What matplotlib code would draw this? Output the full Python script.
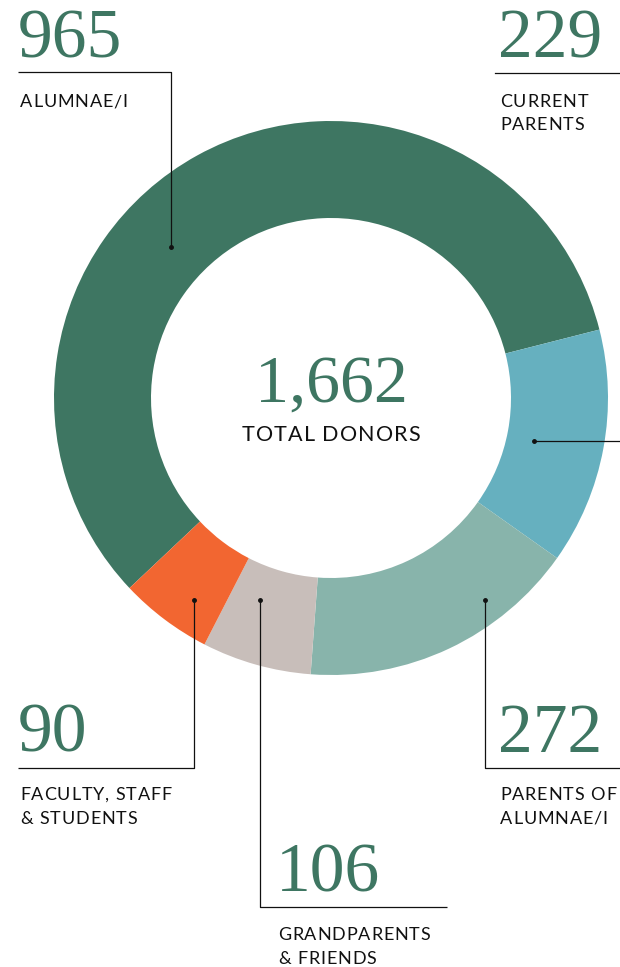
import matplotlib.pyplot as plt
from matplotlib.font_manager import FontProperties

# Donor counts by group
groups = ["ALUMNAE/I", "CURRENT\nPARENTS", "PARENTS OF\nALUMNAE/I",
          "GRANDPARENTS\n& FRIENDS", "FACULTY, STAFF\n& STUDENTS"]
donors = [965, 229, 272, 106, 90]
colors = ["#3e7662", "#66b0bf", "#88b4ab", "#c8beba", "#f26631"]
total = sum(donors)

W, H = 620, 967
NUM_COLOR = "#3e7662"
SERIF = "Liberation Serif"
SANS = "Lato"

fig = plt.figure(figsize=(W / 100, H / 100), dpi=100)
ax = fig.add_axes([0, 0, 1, 1])
renderer = fig.canvas.get_renderer()


def Y(y):
    # image-style y (top = 0) to axis y
    return H - y


def tracked_text(x, y, s, size, ha="left", track=0.05, color="#111111"):
    # draw text letter by letter with extra spacing (letter-spacing)
    prop = FontProperties(family=SANS, size=size)
    extra = track * size * 100 / 72

    def width(t):
        if not t:
            return 0.0
        return renderer.get_text_width_height_descent(t, prop, ismath=False)[0]

    total_w = width(s) + extra * (len(s) - 1)
    x0 = x - total_w / 2 if ha == "center" else x
    for i, ch in enumerate(s):
        ax.text(x0 + width(s[:i]) + extra * i, y, ch, ha="left",
                va="baseline", fontproperties=prop, color=color)


# Donut
cx, cy, r_out, r_in = 331, 398, 277, 180
start = 14.3 + donors[0] / total * 360
ax.pie(donors, colors=colors, startangle=start, counterclock=False,
       center=(cx, Y(cy)), radius=r_out, frame=True,
       wedgeprops=dict(width=r_out - r_in, linewidth=0))
ax.set_xlim(0, W)
ax.set_ylim(0, H)
ax.set_aspect("equal")
ax.axis("off")

# Center total
ax.text(cx, Y(402), f"{total:,}", ha="center", va="baseline",
        family=SERIF, fontsize=49, color=NUM_COLOR)
tracked_text(cx, Y(441), "TOTAL DONORS", 15.5, ha="center")

# Leader lines: dot first, then the path
lw = 0.9
leaders = [
    [(171, 247), (171, 72), (18, 72)],
    [(534, 441), (620, 441)],
    [(485, 600), (485, 768), (620, 768)],
    [(260, 600), (260, 907), (447, 907)],
    [(194, 600), (194, 768), (18, 768)],
]
for pts in leaders:
    xs = [p[0] for p in pts]
    ys = [Y(p[1]) for p in pts]
    ax.plot(xs, ys, color="#111111", lw=lw, solid_capstyle="butt")
    ax.plot(xs[0], ys[0], "o", color="#111111", ms=2.5)
# line under 229
ax.plot([495, 620], [Y(73), Y(73)], color="#111111", lw=lw)

# Number + label positions
label_pos = [
    (20, 58, 107),
    (500, 58, 107),
    (500, 752, 800),
    (278, 892, 940),
    (20, 752, 800),
]
for name, n, (x, ny, ly) in zip(groups, donors, label_pos):
    ax.text(x - 2, Y(ny), str(n), ha="left", va="baseline",
            family=SERIF, fontsize=50, color=NUM_COLOR)
    for i, line in enumerate(name.split("\n")):
        tracked_text(x, Y(ly + 23.5 * i), line, 13)

fig.savefig("out.png", dpi=100)
